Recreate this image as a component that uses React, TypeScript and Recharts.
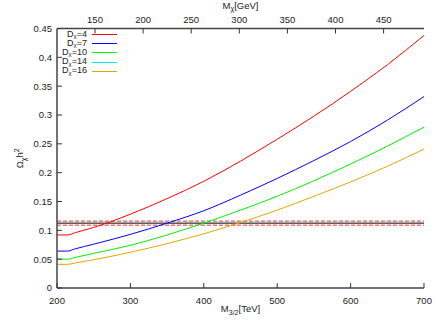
import { LineChart, Line, XAxis, YAxis, ReferenceLine } from "recharts";

// gravitino mass (TeV) and the matching M_chi (GeV)
const m32 = [200, 214, 225, 250, 300, 350, 400, 450, 500, 550, 600, 650, 700];
const mChi = [110.5, 121.2, 129.6, 148.7, 186.8, 225, 263, 301, 339.4, 377.5, 415.6, 453.8, 492];

const dx4 = [0.092, 0.092, 0.096, 0.105, 0.128, 0.155, 0.185, 0.22, 0.258, 0.298, 0.341, 0.387, 0.438];
const dx7 = [0.064, 0.064, 0.068, 0.076, 0.093, 0.1125, 0.134, 0.161, 0.19, 0.221, 0.254, 0.291, 0.332];
const dx10 = [0.05, 0.05, 0.053, 0.06, 0.074, 0.092, 0.1125, 0.135, 0.159, 0.186, 0.215, 0.246, 0.279];
const dx16 = [0.041, 0.041, 0.0435, 0.049, 0.062, 0.077, 0.094, 0.1135, 0.135, 0.159, 0.184, 0.211, 0.241];

const xTicks = [200, 300, 400, 500, 600, 700];
const yTicks = [0, 0.05, 0.1, 0.15, 0.2, 0.25, 0.3, 0.35, 0.4, 0.45];
const topTicks = [150, 200, 250, 300, 350, 400, 450];

const relic = 0.1125;
const relicBand = [0.109, 0.116];

const legendItems = [
  { label: "4", color: "#ff0000" },
  { label: "7", color: "#0000ff" },
  { label: "10", color: "#00ff00" },
  { label: "14", color: "#00e8e8" },
  { label: "16", color: "#e0a800" },
];

const data = m32.map((m, i) => ({
  m,
  mchi: mChi[i],
  d4: dx4[i],
  d7: dx7[i],
  d10: dx10[i],
  d16: dx16[i],
}));

const font = "'Liberation Sans', Arial, sans-serif";
const tickStyle = { fontSize: 9.5, fill: "#222", fontFamily: font };
const axisLine = { stroke: "#444", strokeWidth: 1.5 };

function TopTitle(props: any) {
  const vb = props.viewBox;
  const cx = vb.x + vb.width / 2;
  return (
    <text x={cx} y={8.5} textAnchor="middle" style={tickStyle}>
      M<tspan fontSize={7} dy={2}>χ</tspan>
      <tspan dy={-2}>[GeV]</tspan>
    </text>
  );
}

function BottomTitle(props: any) {
  const vb = props.viewBox;
  const cx = vb.x + vb.width / 2;
  return (
    <text x={cx} y={312} textAnchor="middle" style={tickStyle}>
      M<tspan fontSize={7} dy={3}>3/2</tspan>
      <tspan dy={-3}>[TeV]</tspan>
    </text>
  );
}

function LeftTitle(props: any) {
  const vb = props.viewBox;
  const cy = vb.y + vb.height / 2;
  return (
    <text
      x={0}
      y={0}
      transform={`translate(23, ${cy}) rotate(-90)`}
      textAnchor="middle"
      style={tickStyle}
    >
      Ω<tspan fontSize={7} dy={3}>χ</tspan>
      <tspan dy={-3}>h</tspan>
      <tspan fontSize={7} dy={-4}>2</tspan>
    </text>
  );
}

export default function App() {
  return (
    <div style={{ position: "absolute", left: 0, top: 0, width: 436, height: 327, background: "#fff" }}>
      <LineChart
        width={436}
        height={327}
        data={data}
        margin={{ top: 0, right: 12, bottom: 9, left: 17 }}
      >
        <XAxis
          dataKey="m"
          type="number"
          domain={[200, 700]}
          ticks={xTicks}
          tickSize={-5}
          tickMargin={14}
          tick={tickStyle}
          axisLine={axisLine}
          tickLine={{ stroke: "#333" }}
          height={30}
          label={<BottomTitle />}
        />
        <XAxis
          xAxisId="top"
          dataKey="mchi"
          orientation="top"
          type="number"
          domain={[110.5, 492]}
          allowDataOverflow
          ticks={topTicks}
          interval={0}
          tickSize={-5}
          tickMargin={11}
          tick={tickStyle}
          axisLine={axisLine}
          tickLine={{ stroke: "#333" }}
          height={28.5}
          label={<TopTitle />}
        />
        <YAxis
          type="number"
          domain={[0, 0.45]}
          ticks={yTicks}
          tickSize={-5}
          tickMargin={10}
          tick={tickStyle}
          axisLine={axisLine}
          tickLine={{ stroke: "#333" }}
          width={40}
          label={<LeftTitle />}
        />
        <YAxis
          yAxisId="right"
          orientation="right"
          type="number"
          domain={[0, 0.45]}
          ticks={yTicks}
          tickSize={-5}
          tick={() => <g />}
          axisLine={axisLine}
          tickLine={{ stroke: "#333" }}
          width={0}
        />
        <ReferenceLine y={relicBand[1]} stroke="#ee3333" strokeWidth={1} strokeDasharray="4 2" />
        <ReferenceLine y={relic} stroke="#000" strokeWidth={1} />
        <ReferenceLine y={relicBand[0]} stroke="#ee3333" strokeWidth={1} strokeDasharray="4 2" />
        <Line type="monotone" dataKey="d4" stroke="#ff0000" strokeWidth={1} dot={false} isAnimationActive={false} />
        <Line type="monotone" dataKey="d7" stroke="#0000ff" strokeWidth={1} dot={false} isAnimationActive={false} />
        <Line type="monotone" dataKey="d10" stroke="#00ee00" strokeWidth={1} dot={false} isAnimationActive={false} />
        <Line type="monotone" dataKey="d16" stroke="#e0a800" strokeWidth={1} dot={false} isAnimationActive={false} />
      </LineChart>
      <div style={{ position: "absolute", left: 50, top: 30, fontFamily: font, fontSize: 9, color: "#222" }}>
        {legendItems.map((it) => (
          <div key={it.label} style={{ display: "flex", alignItems: "center", height: 9.2 }}>
            <span style={{ width: 37, textAlign: "right", lineHeight: "7px", whiteSpace: "nowrap" }}>
              D<span style={{ fontSize: 6, position: "relative", top: 1.5 }}>χ</span>={it.label}
            </span>
            <span style={{ display: "inline-block", marginLeft: 5, width: 25, height: 1, background: it.color }} />
          </div>
        ))}
      </div>
    </div>
  );
}
